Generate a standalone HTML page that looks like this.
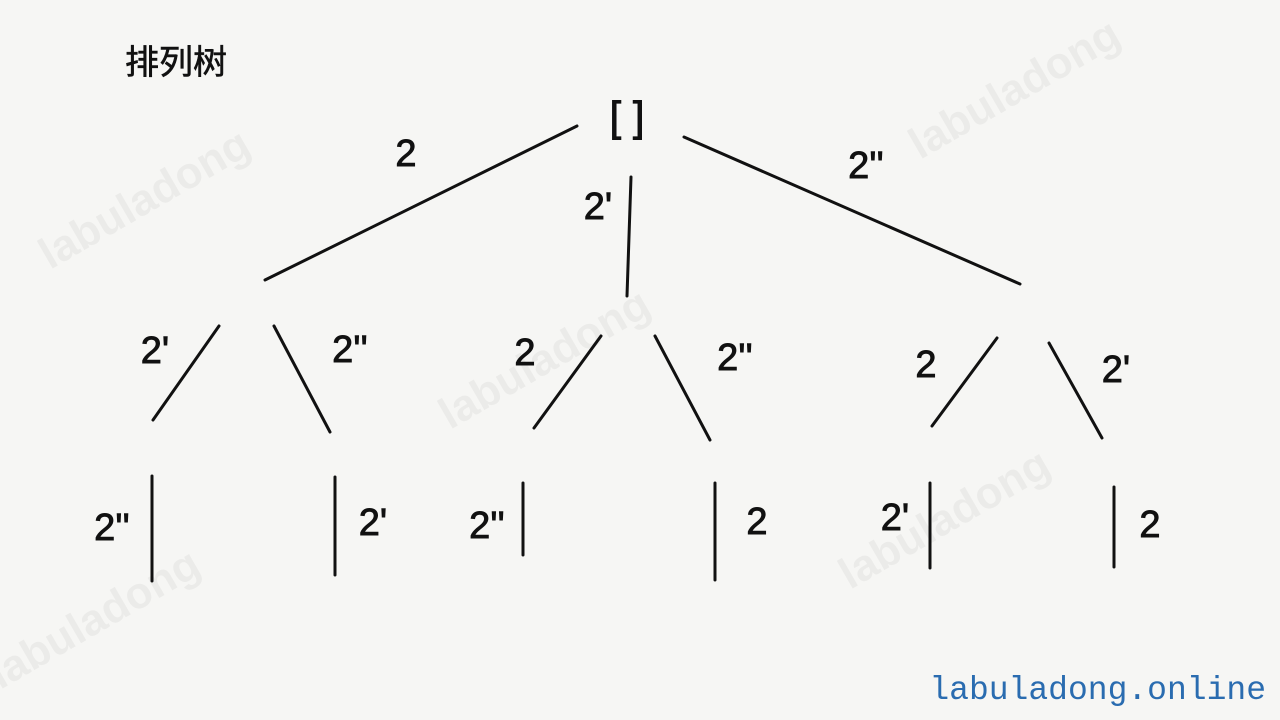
<!DOCTYPE html>
<html><head><meta charset="utf-8">
<style>
html,body{margin:0;padding:0;background:#f6f6f4;}
svg{display:block}
.t{font-family:"Liberation Sans","Noto Sans CJK SC",sans-serif;font-size:38px;fill:#111;stroke:#111;stroke-width:0.9px;text-anchor:middle;dominant-baseline:middle}
.wm{font-family:"Liberation Sans",sans-serif;font-size:44px;font-weight:bold;fill:#000;opacity:0.04}
</style></head>
<body>
<svg width="1280" height="720" viewBox="0 0 1280 720">
<rect width="1280" height="720" fill="#f6f6f4"/>
<g>
<text class="wm" transform="translate(50,270) rotate(-30)">labuladong</text>
<text class="wm" transform="translate(450,430) rotate(-30)">labuladong</text>
<text class="wm" transform="translate(920,160) rotate(-30)">labuladong</text>
<text class="wm" transform="translate(850,590) rotate(-30)">labuladong</text>
<text class="wm" transform="translate(0,690) rotate(-30)">labuladong</text>
</g>
<text class="t" x="176" y="65" style="font-size:34px;stroke-width:0.6px">排列树</text>
<text class="t" x="627" y="120" style="font-size:42px">[ ]</text>
<g stroke="#111" stroke-width="3" stroke-linecap="round">
<line x1="577" y1="126" x2="265" y2="280"/>
<line x1="631" y1="177" x2="627" y2="296"/>
<line x1="684" y1="137" x2="1020" y2="284"/>
<line x1="219" y1="326" x2="153" y2="420"/>
<line x1="274" y1="326" x2="330" y2="432"/>
<line x1="601" y1="336" x2="534" y2="428"/>
<line x1="655" y1="336" x2="710" y2="440"/>
<line x1="997" y1="338" x2="932" y2="426"/>
<line x1="1049" y1="343" x2="1102" y2="438"/>
<line x1="152" y1="476" x2="152" y2="581"/>
<line x1="335" y1="477" x2="335" y2="575"/>
<line x1="523" y1="483" x2="523" y2="555"/>
<line x1="715" y1="483" x2="715" y2="580"/>
<line x1="930" y1="483" x2="930" y2="568"/>
<line x1="1114" y1="487" x2="1114" y2="567"/>
</g>
<g>
<text class="t" x="406" y="156">2</text>
<text class="t" x="598" y="209">2'</text>
<text class="t" x="866" y="168">2''</text>
<text class="t" x="155" y="353">2'</text>
<text class="t" x="350" y="352">2''</text>
<text class="t" x="525" y="355">2</text>
<text class="t" x="735" y="360">2''</text>
<text class="t" x="926" y="367">2</text>
<text class="t" x="1116" y="372">2'</text>
<text class="t" x="112" y="530">2''</text>
<text class="t" x="373" y="525">2'</text>
<text class="t" x="487" y="528">2''</text>
<text class="t" x="757" y="524">2</text>
<text class="t" x="895" y="520">2'</text>
<text class="t" x="1150" y="527">2</text>
</g>
<text x="1266" y="699" text-anchor="end" style="font-family:'Liberation Mono',monospace;font-size:33px;fill:#2a6cb0">labuladong.online</text>
</svg>
</body></html>
